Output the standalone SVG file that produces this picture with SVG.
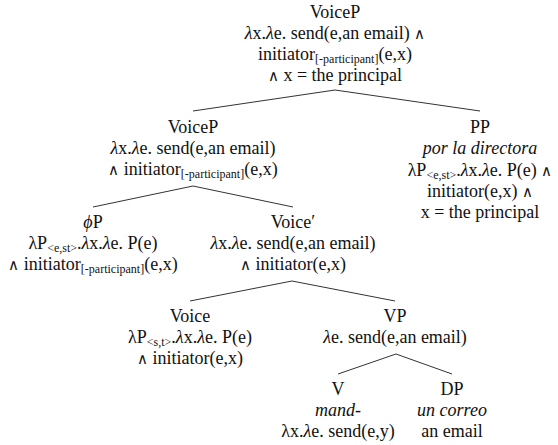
<svg xmlns="http://www.w3.org/2000/svg" width="558" height="445" viewBox="0 0 558 445">
<style>
text{font-family:"Liberation Serif","DejaVu Serif",serif;font-size:18px;fill:#111;text-anchor:middle}
.s{font-size:12px}
.i{font-style:italic}
.w{font-family:"DejaVu Sans",sans-serif;font-weight:200;font-size:15px}
.e{stroke:#333;stroke-width:1;fill:none}
</style>
<rect width="558" height="445" fill="#fff"/>
<g id="connectors">
<path class="e" d="M193,111 L335,90 L480,111"/>
<path class="e" d="M93,207 L193,186 L293,207"/>
<path class="e" d="M190,301 L292,281 L395,301"/>
<path class="e" d="M338,374 L396,354 L452,374"/>
</g>
<g id="root">
<text x="335" y="18">VoiceP</text>
<text x="335" y="39"><tspan class="i">λ</tspan>x.<tspan class="i">λ</tspan>e. send(e,an email) <tspan class="w">∧</tspan></text>
<text x="335" y="60">initiator<tspan class="s" dy="3">[-participant]</tspan><tspan dy="-3">(e,x)</tspan></text>
<text x="335" y="81"><tspan class="w">∧</tspan> x = the principal</text>
</g>
<g id="voiceP">
<text x="193" y="133">VoiceP</text>
<text x="193" y="154"><tspan class="i">λ</tspan>x.<tspan class="i">λ</tspan>e. send(e,an email)</text>
<text x="193" y="175"><tspan class="w">∧</tspan> initiator<tspan class="s" dy="3">[-participant]</tspan><tspan dy="-3">(e,x)</tspan></text>
</g>
<g id="PP">
<text x="480" y="133">PP</text>
<text x="480" y="154" class="i">por la directora</text>
<text x="480" y="176">λP<tspan class="s" dy="3">&lt;e,st&gt;</tspan><tspan dy="-3">.</tspan><tspan class="i">λ</tspan>x.<tspan class="i">λ</tspan>e. P(e) <tspan class="w">∧</tspan></text>
<text x="480" y="197">initiator(e,x) <tspan class="w">∧</tspan></text>
<text x="480" y="218">x = the principal</text>
</g>
<g id="phiP">
<text x="93" y="228"><tspan class="i">ϕ</tspan>P</text>
<text x="93" y="249">λP<tspan class="s" dy="3">&lt;e,st&gt;</tspan><tspan dy="-3">.</tspan><tspan class="i">λ</tspan>x.<tspan class="i">λ</tspan>e. P(e)</text>
<text x="93" y="270"><tspan class="w">∧</tspan> initiator<tspan class="s" dy="3">[-participant]</tspan><tspan dy="-3">(e,x)</tspan></text>
</g>
<g id="voiceBar">
<text x="293" y="228">Voice′</text>
<text x="293" y="249"><tspan class="i">λ</tspan>x.<tspan class="i">λ</tspan>e. send(e,an email)</text>
<text x="293" y="270"><tspan class="w">∧</tspan> initiator(e,x)</text>
</g>
<g id="voice">
<text x="190" y="322">Voice</text>
<text x="190" y="343">λP<tspan class="s" dy="3">&lt;s,t&gt;</tspan><tspan dy="-3">.</tspan><tspan class="i">λ</tspan>x.<tspan class="i">λ</tspan>e. P(e)</text>
<text x="190" y="364"><tspan class="w">∧</tspan> initiator(e,x)</text>
</g>
<g id="VP">
<text x="395" y="322">VP</text>
<text x="395" y="343"><tspan class="i">λ</tspan>e. send(e,an email)</text>
</g>
<g id="V">
<text x="338" y="395">V</text>
<text x="338" y="416" class="i">mand-</text>
<text x="338" y="437">λx.<tspan class="i">λ</tspan>e. send(e,y)</text>
</g>
<g id="DP">
<text x="452" y="395">DP</text>
<text x="452" y="416" class="i">un correo</text>
<text x="452" y="437">an email</text>
</g>
</svg>
